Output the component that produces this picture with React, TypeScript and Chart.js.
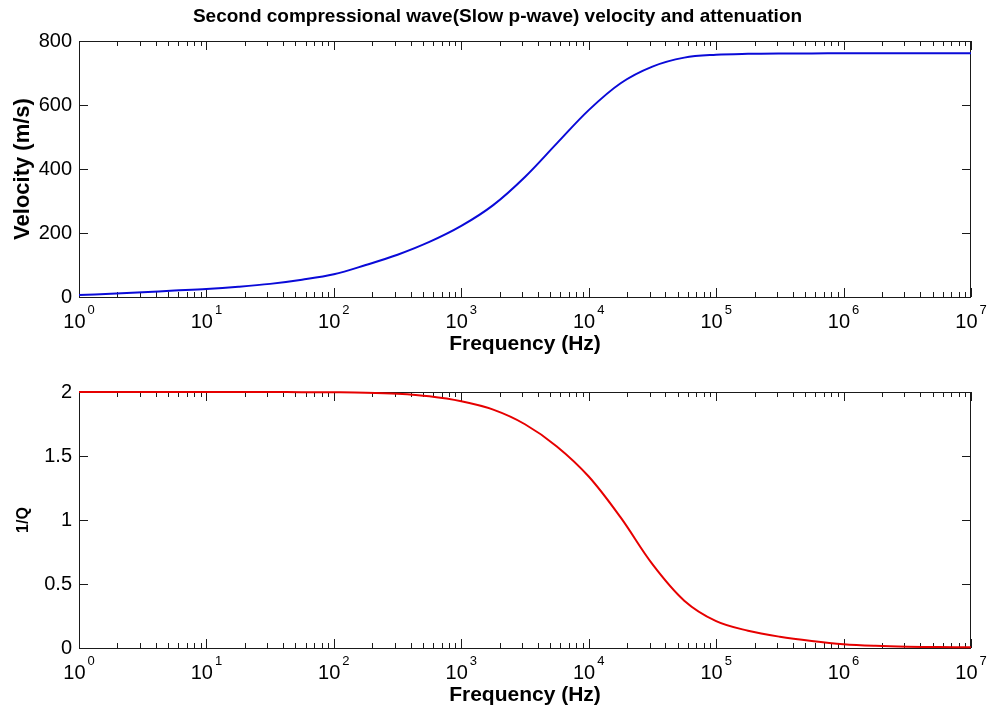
import React, { useEffect, useRef } from 'react';
import { Chart, registerables } from 'chart.js';

Chart.register(...registerables);

// ---------- data ----------
const FREQ_HZ = [
  1, 1.78, 3.16, 5.62, 10, 17.8, 31.6, 56.2, 100, 178, 316, 562, 1000, 1780, 3160, 5620,
  10000, 17800, 31600, 56200, 100000, 178000, 316000, 562000, 1000000, 1780000, 3160000,
  5620000, 10000000,
];
const VELOCITY_MS = [
  6, 10, 15, 20, 25, 32, 41, 54, 71, 100, 132, 172, 222, 287, 375, 480,
  584, 668, 720, 748, 757, 760, 761, 761, 762, 762, 762,
  762, 762,
];
const INV_Q = [
  2, 2, 2, 2, 2, 2, 2, 1.999, 1.998, 1.995, 1.986, 1.966, 1.927, 1.862, 1.748, 1.575,
  1.34, 1.02, 0.655, 0.37, 0.21, 0.135, 0.088, 0.055, 0.03, 0.017, 0.01,
  0.007, 0.005,
];
const X_TICK_EXPONENTS = [0, 1, 2, 3, 4, 5, 6, 7];
const MINOR_MULTIPLIERS = [2, 3, 4, 5, 6, 7, 8, 9];

const TITLE = 'Second compressional wave(Slow p-wave) velocity and attenuation';
const X_LABEL = 'Frequency (Hz)';
const Y_LABEL_TOP = 'Velocity (m/s)';
const Y_LABEL_BOTTOM = '1/Q';

const FAMILY = "'Liberation Sans', Arial, Helvetica, sans-serif";

// ---------- plugin: MATLAB-like box, inward ticks and 10^n labels ----------
const matlabAxes = {
  id: 'matlabAxes',
  beforeDatasetsDraw(chart: any) {
    const { ctx, chartArea } = chart;
    const { left, right, top, bottom } = chartArea;
    const xs = chart.scales.x;
    const ys = chart.scales.y;
    ctx.save();
    ctx.strokeStyle = '#1a1a1a';
    ctx.lineWidth = 1;
    ctx.beginPath();
    const maxE = X_TICK_EXPONENTS[X_TICK_EXPONENTS.length - 1];
    X_TICK_EXPONENTS.forEach((e) => {
      const major = Math.pow(10, e);
      const px = Math.round(xs.getPixelForValue(major)) + 0.5;
      ctx.moveTo(px, bottom);
      ctx.lineTo(px, bottom - 9);
      ctx.moveTo(px, top);
      ctx.lineTo(px, top + 9);
      if (e < maxE) {
        MINOR_MULTIPLIERS.forEach((m) => {
          const mx = Math.round(xs.getPixelForValue(m * major)) + 0.5;
          ctx.moveTo(mx, bottom);
          ctx.lineTo(mx, bottom - 5);
          ctx.moveTo(mx, top);
          ctx.lineTo(mx, top + 5);
        });
      }
    });
    ys.ticks.forEach((t: any) => {
      const py = Math.round(ys.getPixelForValue(t.value)) + 0.5;
      ctx.moveTo(left, py);
      ctx.lineTo(left + 9, py);
      ctx.moveTo(right, py);
      ctx.lineTo(right - 9, py);
    });
    ctx.stroke();
    ctx.strokeRect(
      Math.round(left) + 0.5,
      Math.round(top) + 0.5,
      Math.round(right) - Math.round(left) - 1,
      Math.round(bottom) - Math.round(top)
    );
    ctx.restore();
  },
  afterDraw(chart: any) {
    const { ctx, chartArea } = chart;
    const xs = chart.scales.x;
    const bottom = chartArea.bottom;
    ctx.save();
    ctx.fillStyle = '#000';
    ctx.textAlign = 'left';
    ctx.textBaseline = 'alphabetic';
    X_TICK_EXPONENTS.forEach((e) => {
      const px = xs.getPixelForValue(Math.pow(10, e));
      ctx.font = `20px ${FAMILY}`;
      const bw = ctx.measureText('10').width;
      ctx.font = `13px ${FAMILY}`;
      const exp = String(e);
      const ew = ctx.measureText(exp).width;
      const total = bw + 2 + ew;
      const x0 = px - total / 2;
      ctx.font = `20px ${FAMILY}`;
      ctx.fillText('10', x0, bottom + 30.5);
      ctx.font = `13px ${FAMILY}`;
      ctx.fillText(exp, x0 + bw + 2, bottom + 17);
    });
    const title = chart.options.plugins.panelTitle?.text;
    if (title) {
      ctx.font = `bold 19px ${FAMILY}`;
      ctx.textAlign = 'center';
      ctx.textBaseline = 'middle';
      ctx.fillText(title, 497.5, 17);
    }
    ctx.restore();
  },
};

interface PanelSpec {
  values: number[];
  color: string;
  yMax: number;
  yStep: number;
  yTitle: string;
  yTitleSize: number;
  yTitlePad: number;
  title?: string;
  topPad: number;
  xAxisHeight: number;
  xTitlePadBottom: number;
}

function buildConfig(p: PanelSpec): any {
  return {
    type: 'line',
    data: {
      datasets: [
        {
          data: FREQ_HZ.map((f, i) => ({ x: f, y: p.values[i] })),
          borderColor: p.color,
          borderWidth: 2,
          pointRadius: 0,
          fill: false,
          tension: 0.35,
          clip: 4,
        },
      ],
    },
    plugins: [matlabAxes],
    options: {
      responsive: false,
      animation: false,
      devicePixelRatio: 1,
      events: [],
      layout: { padding: { left: 0, right: 20, top: p.topPad, bottom: 0 } },
      plugins: {
        legend: { display: false },
        tooltip: { enabled: false },
        title: { display: false },
        panelTitle: { text: p.title || '' },
      },
      scales: {
        x: {
          type: 'logarithmic',
          min: 1,
          max: 10000000,
          grid: { display: false, drawTicks: false, tickLength: 0 },
          border: { display: false },
          ticks: { display: false },
          title: {
            display: true,
            text: X_LABEL,
            color: '#000',
            font: { size: 21, weight: 'bold', family: FAMILY, lineHeight: 1 },
            padding: { top: 0, bottom: p.xTitlePadBottom },
          },
          afterFit: (s: any) => {
            s.height = p.xAxisHeight;
          },
        },
        y: {
          min: 0,
          max: p.yMax,
          grid: { display: false, drawTicks: false, tickLength: 0 },
          border: { display: false },
          ticks: {
            stepSize: p.yStep,
            color: '#000',
            padding: 7,
            font: { size: 20, family: FAMILY },
            callback: (v: any) => String(Number(v)),
          },
          title: {
            display: true,
            text: p.yTitle,
            color: '#000',
            font: { size: p.yTitleSize, weight: 'bold', family: FAMILY, lineHeight: 1 },
            padding: { top: p.yTitlePad, bottom: 0 },
          },
          afterFit: (s: any) => {
            s.width = 79;
          },
        },
      },
    },
  };
}

export default function App() {
  const topRef = useRef<HTMLCanvasElement>(null);
  const botRef = useRef<HTMLCanvasElement>(null);

  useEffect(() => {
    const c1 = new Chart(
      topRef.current as HTMLCanvasElement,
      buildConfig({
        values: VELOCITY_MS,
        color: '#0a0ad8',
        yMax: 800,
        yStep: 200,
        yTitle: Y_LABEL_TOP,
        yTitleSize: 22,
        yTitlePad: 12,
        title: TITLE,
        topPad: 41,
        xAxisHeight: 58,
        xTitlePadBottom: 0,
      })
    );
    const c2 = new Chart(
      botRef.current as HTMLCanvasElement,
      buildConfig({
        values: INV_Q,
        color: '#e60000',
        yMax: 2,
        yStep: 0.5,
        yTitle: Y_LABEL_BOTTOM,
        yTitleSize: 16,
        yTitlePad: 16,
        topPad: 37,
        xAxisHeight: 62,
        xTitlePadBottom: 4,
      })
    );
    return () => {
      c1.destroy();
      c2.destroy();
    };
  }, []);

  return (
    <div
      style={{
        position: 'absolute',
        left: 0,
        top: 0,
        width: 991,
        height: 710,
        background: '#fff',
      }}
    >
      <canvas ref={topRef} width={991} height={355} style={{ display: 'block', width: 991, height: 355 }} />
      <canvas ref={botRef} width={991} height={355} style={{ display: 'block', width: 991, height: 355 }} />
    </div>
  );
}
